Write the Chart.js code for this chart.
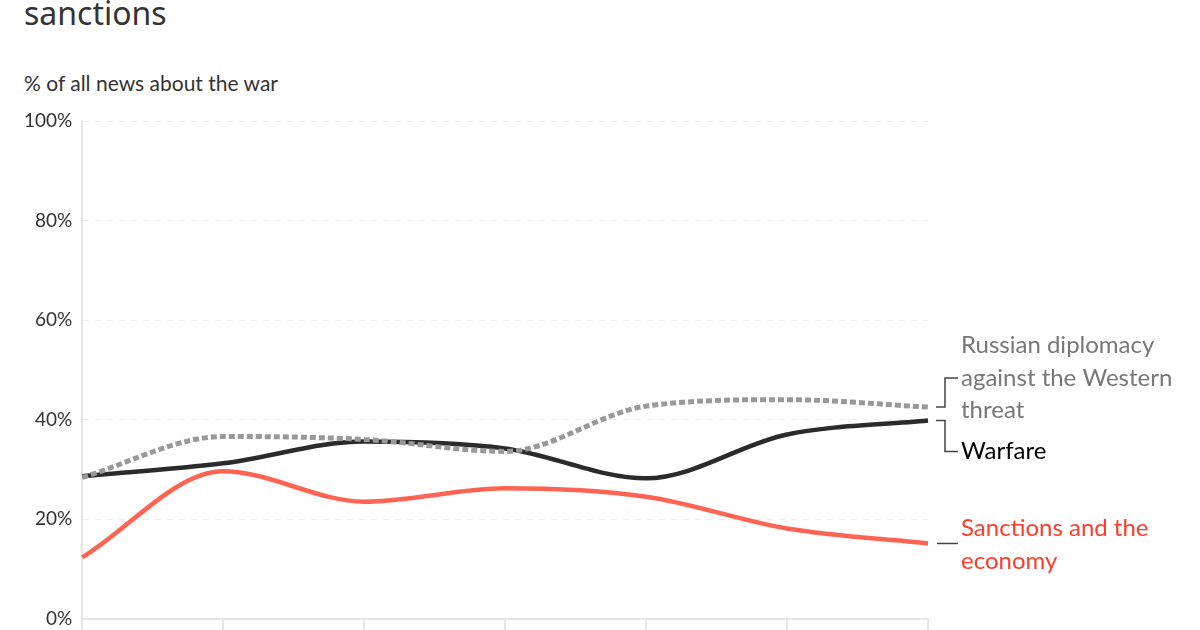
<!DOCTYPE html>
<html>
<head>
<meta charset="utf-8">
<script src="https://cdn.jsdelivr.net/npm/chart.js@4.4.1/dist/chart.umd.min.js"></script>
<style>
  html, body { margin: 0; padding: 0; background: #fff; }
  #wrap { position: relative; width: 1200px; height: 630px; overflow: hidden; }
  #title { position: absolute; left: 24px; top: -9px; font: 400 32px "Noto Sans", sans-serif; color: #333; }
  #sub { position: absolute; left: 24px; top: 70px; font: 21px Lato, sans-serif; color: #333; }
  canvas { position: absolute; left: 0; top: 10px; }
</style>
</head>
<body>
<div id="wrap">
  <div id="title">sanctions</div>
  <div id="sub">% of all news about the war</div>
  <canvas id="c" width="1200" height="630"></canvas>
</div>
<script>
const periods = ["1", "2", "3", "4", "5", "6", "7"];
const warfare = [28.6, 31.2, 35.6, 34.2, 28.2, 37.0, 39.8];
const diplomacy = [28.4, 36.6, 36.0, 33.6, 42.7, 44.0, 42.5];
const sanctions = [12.3, 29.6, 23.5, 26.2, 24.5, 18.1, 15.1];
const yTicks = [0, 20, 40, 60, 80, 100];

// labels at the right end of each line
const endLabels = {
    id: "endLabels",
    afterDatasetsDraw(chart) {
        const ctx = chart.ctx;
        const y = chart.scales.y;
        const right = chart.chartArea.right;
        const x0 = right + 8, xm = right + 17, xt = right + 33;
        ctx.save();
        ctx.font = "24px Lato, sans-serif";
        ctx.textBaseline = "middle";
        ctx.lineWidth = 1.5;
        ctx.strokeStyle = "#444";

        const yd = y.getPixelForValue(diplomacy[diplomacy.length - 1]);
        const yw = y.getPixelForValue(warfare[warfare.length - 1]);
        const ys = y.getPixelForValue(sanctions[sanctions.length - 1]);

        // diplomacy bracket
        ctx.beginPath();
        ctx.moveTo(x0, yd); ctx.lineTo(xm, yd); ctx.lineTo(xm, yd - 29); ctx.lineTo(xt - 3, yd - 29);
        ctx.stroke();
        // warfare bracket
        ctx.beginPath();
        ctx.moveTo(x0, yw); ctx.lineTo(xm, yw); ctx.lineTo(xm, yw + 31); ctx.lineTo(xt - 3, yw + 31);
        ctx.stroke();
        // sanctions
        ctx.beginPath();
        ctx.moveTo(x0 + 1, ys); ctx.lineTo(xt - 3, ys);
        ctx.stroke();

        ctx.fillStyle = "#777";
        ctx.fillText("Russian diplomacy", xt, yd - 62);
        ctx.fillText("against the Western", xt, yd - 29);
        ctx.fillText("threat", xt, yd + 3);
        ctx.fillStyle = "#000";
        ctx.fillText("Warfare", xt, yw + 31);
        ctx.fillStyle = "#ff3b2a";
        ctx.fillText("Sanctions and the", xt, ys - 15);
        ctx.fillText("economy", xt, ys + 18);
        ctx.restore();
    }
};

new Chart(document.getElementById("c"), {
    type: "line",
    data: {
        labels: periods,
        datasets: [
            {
                label: "Sanctions and the economy",
                data: sanctions,
                borderColor: "#ff6352",
                borderWidth: 4.5,
                cubicInterpolationMode: "monotone",
                pointRadius: 0
            },
            {
                label: "Russian diplomacy against the Western threat",
                data: diplomacy,
                borderColor: "#999",
                borderWidth: 5,
                borderDash: [6, 3],
                borderCapStyle: "butt",
                cubicInterpolationMode: "monotone",
                pointRadius: 0
            },
            {
                label: "Warfare",
                data: warfare,
                borderColor: "#2b2b2b",
                borderWidth: 4.5,
                cubicInterpolationMode: "monotone",
                pointRadius: 0
            }
        ]
    },
    options: {
        responsive: false,
        animation: false,
        layout: { padding: { left: 14, right: 272, top: 111, bottom: 0 } },
        plugins: {
            legend: { display: false },
            tooltip: { enabled: false }
        },
        scales: {
            x: {
                offset: false,
                ticks: { display: false },
                grid: { drawOnChartArea: false, drawTicks: true, tickLength: 12, color: "#e6e6e6", lineWidth: 2 },
                border: { color: "#e6e6e6", width: 2 }
            },
            y: {
                min: 0,
                max: 100,
                afterBuildTicks(axis) { axis.ticks = yTicks.map(v => ({ value: v })); },
                ticks: {
                    callback: v => v + "%",
                    color: "#333",
                    font: { family: "Lato", size: 19 },
                    padding: 10
                },
                grid: { drawTicks: false, color: "#ececec", lineWidth: 1 },
                border: { color: "#e6e6e6", width: 2, dash: [6, 6] }
            }
        }
    },
    plugins: [endLabels]
});
</script>
</body>
</html>
